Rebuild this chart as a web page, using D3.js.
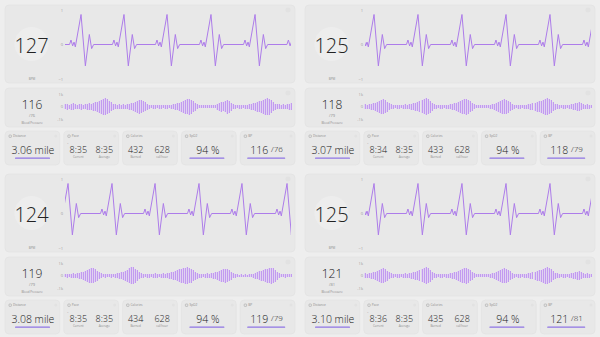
<!doctype HTML>
<html lang="en">
<head>
<title>Vitals dashboard</title>
<script src="https://d3js.org/d3.v7.min.js"></script>
<style type="text/css">
  body { margin: 0; background: #eeeeee; }
  text { font-family: "Open Sans", "Noto Sans", sans-serif; }
  .axis text { font-size: 4px; fill: #9a9a9a; }
  .axis path { display: none; }
</style>
</head>
<body>
<script type="text/javascript">

var W = 600, H = 337;

// values shown in each of the four panels (top-left, top-right, bottom-left, bottom-right)
var heartRates = [127, 125, 124, 125];
var bpSys = [116, 118, 119, 121];
var bpDia = [76, 79, 79, 81];
var distances = ["3.06", "3.07", "3.08", "3.10"];
var paceCurrent = ["8:35", "8:34", "8:35", "8:36"];
var paceAverage = ["8:35", "8:35", "8:35", "8:35"];
var calBurned = [432, 433, 434, 435];
var calPerHour = [628, 628, 628, 628];
var spo2 = [94, 94, 94, 94];

var ecgTicks = [-1, 0, 1];
var bpTicks = [-1, 0, 1];
var bpTickLabels = ["-1k", "0", "1k"];

// one heartbeat: ms from the R peak, amplitude
var beatShape = [[-125, 0], [-109, 0.13], [-91, -0.04], [-76, 0.07], [-62, -0.07],
                 [0, 0.87], [47, -0.62], [90, 0.29], [115, -0.12], [137, 0]];
var ecgSpan = 2452; // ms visible in the trace

// R peak times (ms) in each panel
var rPeaks = [
  [174, 640, 1107, 1584, 2062, 2533],
  [98, 575, 1052, 1530, 2007, 2485],
  [33, 510, 977, 1454, 1920, 2409],
  [98, 575, 1052, 1530, 2007, 2485]
];

// blood pressure waveform, bar half-heights (114 bars each)
var bpWave0 = [.2,.24,.16,.24,.28,.2,.16,.2,.24,.16,.2,.24,.28,.24,.32,.36,.4,
  .48,.56,.64,.68,.6,.48,.36,.24,
  .2,.16,.2,.16,.2,.16,.2,.24,.28,.32,
  .4,.48,.56,.52,.44,.36,.24,
  .16,.12,.16,.16,.12,.16,.16,.12,.16,.16,.12,.16,.2,.24,.28,.32,.4,
  .48,.56,.6,.64,.56,.44,.32,.2,
  .1,.1,.1,.1,.1,.1,.1,.1,.1,
  .24,.32,.4,.36,.44,.56,.48,.32,.2,
  .16,.12,.16,.16,.12,.16,.16,.2,.24,.28,.32,.4,.44,
  .48,.56,.64,.68,.64,.52,.36,.24,.2,
  .2,.16,.2,.16,.2,.24,.28];
var bpWave1 = [.2,.16,.2,.24,.28,.32,.4,.48,.56,.6,.52,.4,.28,.2,
  .16,.12,.16,.16,.12,.16,.2,.16,.2,.24,.28,.32,.36,
  .44,.52,.6,.66,.6,.48,.32,.2,
  .16,.12,.16,.16,.12,.16,.16,.2,.24,.28,.32,.4,
  .48,.56,.62,.64,.56,.44,.32,.2,
  .12,.1,.12,.1,.12,.1,.12,.16,.2,.24,.32,.4,
  .48,.56,.6,.56,.48,.36,.24,
  .16,.12,.16,.16,.12,.16,.16,.2,.24,.28,.32,.4,.44,
  .48,.56,.64,.66,.62,.52,.36,.24,.2,
  .16,.12,.16,.16,.12,.16,.2,.24,.28,.32,.36,.3,.2,.16,.2,.16,.12];
var bpWave2 = [.12,.16,.12,.16,.2,.16,.2,.24,.28,
  .32,.4,.48,.56,.6,.6,.52,.4,.28,.2,
  .12,.16,.12,.12,.16,.12,.16,.2,.24,.28,.32,
  .4,.48,.6,.66,.68,.56,.44,.3,.2,
  .16,.12,.16,.16,.12,.16,.2,.16,.12,.16,.2,.16,.2,.24,.28,.32,.36,.44,
  .5,.56,.6,.64,.66,.62,.56,.44,.32,.24,.16,
  .16,.12,.16,.2,.16,.2,.24,.28,
  .32,.4,.48,.52,.56,.54,.44,.32,.2,.16,
  .1,.08,.1,.08,.1,.08,.1,.12,.16,.24,.28,.36,
  .4,.44,.5,.56,.6,.64,.6,.48,.32,.2,.12,
  .1,.16,.1,.12,.1];
var bpWave3 = bpWave1;
var bpWaves = [bpWave0, bpWave1, bpWave2, bpWave3];

var origins = [[0, 0], [300, 0], [0, 169], [300, 169]];

var purple = "#ad7cea";
var barPurple = "#c29af0";
var barHalo = "#e0d3f1";
var cardFill = "#e8e8e8";
var cardStroke = "#e0e0e0";
var dark = "#222222";
var grey = "#8c8c8c";

var svg = d3.select("body").append("svg")
  .attr("width", W)
  .attr("height", H);

function card(g, x, y, w, h) {
  g.append("rect")
    .attr("x", x).attr("y", y)
    .attr("width", w).attr("height", h)
    .attr("rx", 4)
    .attr("fill", cardFill)
    .attr("stroke", cardStroke)
    .attr("stroke-width", 0.6);
}

function label(g, x, y, txt, size, color, anchor, weight) {
  return g.append("text")
    .attr("x", x).attr("y", y)
    .attr("text-anchor", anchor || "middle")
    .attr("dominant-baseline", "central")
    .attr("font-size", size)
    .attr("font-weight", weight || 400)
    .attr("fill", color)
    .text(txt);
}

function beatPoints(peaks) {
  var pts = [];
  if (peaks[0] + beatShape[0][0] > 0) pts.push([0, 0]);
  peaks.forEach(function(p) {
    beatShape.forEach(function(b) { pts.push([p + b[0], b[1]]); });
  });
  var last = peaks[peaks.length - 1] + beatShape[beatShape.length - 1][0];
  if (last < ecgSpan) pts.push([ecgSpan, 0]);
  return pts;
}

function drawPanel(k) {
  var ox = origins[k][0], oy = origins[k][1];
  var g = svg.append("g");

  // ---- ECG card
  card(g, ox + 5, oy + 5, 290, 78);
  g.append("circle")
    .attr("cx", ox + 31.5).attr("cy", oy + 44).attr("r", 17)
    .attr("fill", "#ededed");
  label(g, ox + 31.5, oy + 45, heartRates[k], 20, dark, "middle", 300);
  label(g, ox + 32, oy + 79, "BPM", 3, grey);
  g.append("circle").attr("cx", ox + 288).attr("cy", oy + 10).attr("r", 2.5).attr("fill", "#e2e2e2");

  var x = d3.scaleLinear().domain([0, ecgSpan]).range([ox + 65, ox + 291]);
  var y = d3.scaleLinear().domain([-1, 1]).range([oy + 79, oy + 10]);

  g.append("g")
    .attr("class", "axis")
    .attr("transform", "translate(" + (ox + 63) + ",0)")
    .call(d3.axisLeft(y).tickValues(ecgTicks).tickSize(0).tickPadding(0).tickFormat(d3.format("d")));

  svg.append("clipPath").attr("id", "clip" + k)
    .append("rect")
    .attr("x", ox + 65).attr("y", oy + 5)
    .attr("width", 226).attr("height", 78);

  g.append("path")
    .datum(beatPoints(rPeaks[k]))
    .attr("clip-path", "url(#clip" + k + ")")
    .attr("fill", "none")
    .attr("stroke", purple)
    .attr("stroke-width", 1)
    .attr("stroke-linejoin", "round")
    .attr("d", d3.line()
      .x(function(d) { return x(d[0]); })
      .y(function(d) { return y(d[1]); }));

  // ---- blood pressure card
  card(g, ox + 5, oy + 88, 290, 39);
  label(g, ox + 32, oy + 104, bpSys[k], 12, dark, "middle", 300);
  label(g, ox + 32, oy + 115, "/" + bpDia[k], 4, grey);
  label(g, ox + 32, oy + 123, "Blood Pressure", 3, grey);
  g.append("circle").attr("cx", ox + 288).attr("cy", oy + 93).attr("r", 2.5).attr("fill", "#e2e2e2");

  var wave = bpWaves[k];
  var bx = d3.scaleLinear().domain([0, wave.length - 1]).range([ox + 65, ox + 291]);
  var by = d3.scaleLinear().domain([-1, 1]).range([oy + 119, oy + 94]);

  g.append("g")
    .attr("class", "axis")
    .attr("transform", "translate(" + (ox + 63) + ",0)")
    .call(d3.axisLeft(by).tickValues(bpTicks).tickSize(0).tickPadding(0)
      .tickFormat(function(d, i) { return bpTickLabels[i]; }));

  var bars = g.append("g")
    .attr("shape-rendering", "crispEdges")
    .selectAll("g")
    .data(wave)
    .enter()
    .append("g");

  // faint halo under each bar, then the bar itself
  bars.append("rect")
    .attr("x", function(d, i) { return Math.round(bx(i)) - 1; })
    .attr("y", function(d) { return by(d); })
    .attr("width", 2)
    .attr("height", function(d) { return by(-d) - by(d); })
    .attr("fill", barHalo);
  bars.append("rect")
    .attr("x", function(d, i) { return Math.round(bx(i)); })
    .attr("y", function(d) { return by(d); })
    .attr("width", 1)
    .attr("height", function(d) { return by(-d) - by(d); })
    .attr("fill", barPurple);

  // ---- stat cards
  var cw = 54.8, gap = 4, cy0 = oy + 131, ch = 34;
  var names = ["Distance", "Pace", "Calories", "SpO2", "BP"];
  names.forEach(function(n, j) {
    var cx = ox + 5 + j * (cw + gap);
    card(g, cx, cy0, cw, ch);
    g.append("rect").attr("x", cx + 4).attr("y", cy0 + 4).attr("width", 2.4).attr("height", 2.4)
      .attr("rx", 0.5).attr("fill", "none").attr("stroke", "#9a9a9a").attr("stroke-width", 0.5);
    label(g, cx + 8, cy0 + 5.3, n, 3.2, grey, "start");
    g.append("circle").attr("cx", cx + cw - 4).attr("cy", cy0 + 5).attr("r", 1.5).attr("fill", "#e2e2e2");
  });

  var c0 = ox + 5, c1 = c0 + cw + gap, c2 = c1 + cw + gap, c3 = c2 + cw + gap, c4 = c3 + cw + gap;
  var vy = cy0 + 18.5;

  // distance
  label(g, c0 + cw / 2 + 0.5, vy, distances[k] + " mile", 10.5, dark, "middle", 300);
  g.append("rect").attr("x", c0 + 10).attr("y", cy0 + 26.5).attr("width", 35).attr("height", 1.3)
    .attr("rx", 0.6).attr("fill", "#8e74e4");

  // pace
  label(g, c1 + 4, cy0 + 13, "˄", 4, grey);
  label(g, c1 + 14.5, vy, paceCurrent[k], 9, dark, "middle", 300);
  label(g, c1 + 40.5, vy, paceAverage[k], 9, dark, "middle", 300);
  label(g, c1 + 14.5, cy0 + 26, "Current", 3, grey);
  label(g, c1 + 40.5, cy0 + 26, "Average", 3, grey);

  // calories
  label(g, c2 + 13, vy, calBurned[k], 9, dark, "middle", 300);
  label(g, c2 + 39.5, vy, calPerHour[k], 9, dark, "middle", 300);
  label(g, c2 + 13, cy0 + 26, "Burned", 3, grey);
  label(g, c2 + 39.5, cy0 + 26, "cal/hour", 3, grey);

  // SpO2
  label(g, c3 + cw / 2 - 1, vy, spo2[k] + " %", 10.5, dark, "middle", 300);
  g.append("rect").attr("x", c3 + 8).attr("y", cy0 + 26.5).attr("width", 35).attr("height", 1.3)
    .attr("rx", 0.6).attr("fill", "#8e74e4");

  // BP
  var t = g.append("text")
    .attr("x", c4 + cw / 2 - 1).attr("y", vy)
    .attr("text-anchor", "middle")
    .attr("dominant-baseline", "central")
    .attr("fill", dark)
    .attr("font-weight", 300);
  t.append("tspan").attr("font-size", 10.5).text(bpSys[k] + " ");
  t.append("tspan").attr("font-size", 8).attr("dy", -1.5).text("/" + bpDia[k]);
  g.append("rect").attr("x", c4 + 7).attr("y", cy0 + 26.5).attr("width", 38).attr("height", 1.3)
    .attr("rx", 0.6).attr("fill", "#8e74e4");
}

for (var k = 0; k < 4; k++) drawPanel(k);

</script>
</body>
</html>
